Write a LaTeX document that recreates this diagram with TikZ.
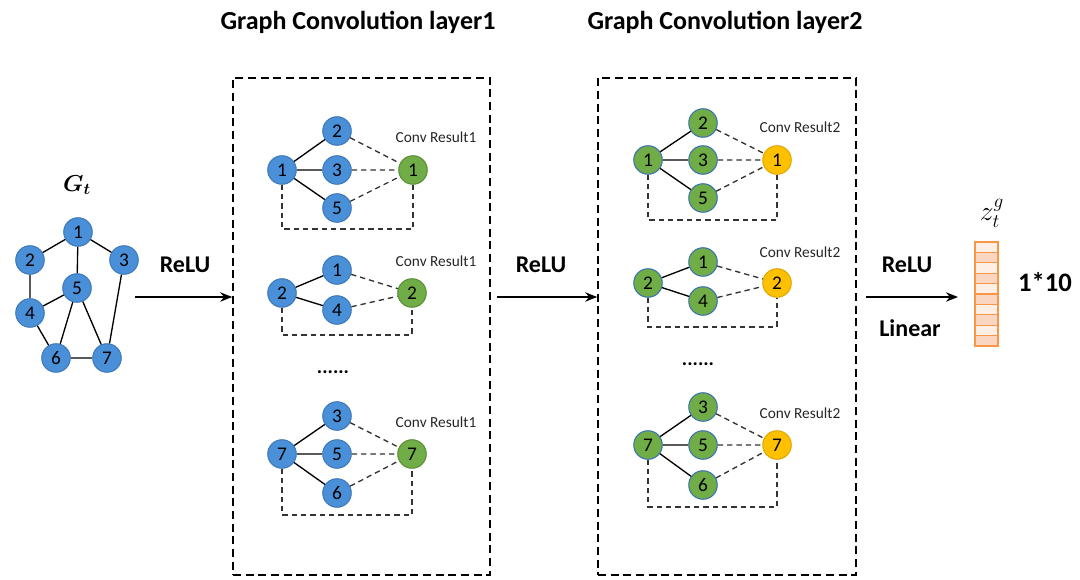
\documentclass[tikz,border=0pt]{standalone}
\usepackage{fontspec}
\setmainfont{Carlito}
\usepackage{amsmath,bm}
\usetikzlibrary{arrows.meta}
\definecolor{nblue}{HTML}{4A90D9}
\definecolor{nblueb}{HTML}{3F7AB8}
\definecolor{ngreen}{HTML}{70AD47}
\definecolor{ngreenb}{HTML}{5A8F38}
\definecolor{nyellow}{HTML}{FFC000}
\definecolor{nyellowb}{HTML}{E0A800}
\definecolor{vborder}{HTML}{F79646}
\definecolor{vfillA}{HTML}{FDEEE6}
\definecolor{vfillB}{HTML}{FAD5C2}
\tikzset{
  gnode/.style={circle,minimum size=28.5pt*0.75,inner sep=0pt,line width=0.8pt,font=\fontsize{14.5}{14.5}\selectfont},
  bnode/.style={gnode,fill=nblue,draw=nblueb},
  cnode/.style={gnode,fill=ngreen,draw=ngreenb},
  c2node/.style={gnode,fill=ngreen,draw=nblue!80!black},
  ynode/.style={gnode,fill=nyellow,draw=nyellowb},
  edge/.style={line width=1pt,black},
  dedge/.style={line width=1pt,black!80,dash pattern=on 4pt off 3pt},
  layerbox/.style={draw,line width=1.2pt,dash pattern=on 6pt off 3.5pt},
  title/.style={font=\fontsize{19.5}{22}\selectfont\bfseries},
  lbl/.style={font=\fontsize{18}{20}\selectfont\bfseries},
  convlbl/.style={font=\fontsize{11.5}{13}\selectfont,text=black!85},
  dots/.style={font=\fontsize{15}{15}\selectfont\bfseries},
  flow/.style={line width=1.4pt,-{Stealth[length=9pt,width=7pt]}},
  vcell/.style={draw=vborder,line width=1pt}
}
\begin{document}
\begin{tikzpicture}[x=0.75pt,y=-0.75pt]
\useasboundingbox (0,0) rectangle (1080,580);
% ---------- input graph G_t ----------
\node (gt) at (77,185) {\fontsize{17}{17}\selectfont$\bm{G_t}$};
\node[bnode] (g1) at (78,232) {1};
\node[bnode] (g2) at (30,260) {2};
\node[bnode] (g3) at (124,260) {3};
\node[bnode] (g5) at (77,288) {5};
\node[bnode] (g4) at (30,313) {4};
\node[bnode] (g6) at (56,358) {6};
\node[bnode] (g7) at (107,358) {7};
\draw[edge] (g1)--(g2) (g1)--(g3) (g1)--(g5) (g2)--(g4) (g4)--(g5) (g4)--(g6)
  (g5)--(g6) (g5)--(g7) (g3)--(g7) (g6)--(g7);
% ---------- titles and boxes ----------
\node[title] (t1) at (358,22) {Graph Convolution layer1};
\node[title] (t2) at (725,22) {Graph Convolution layer2};
\node[layerbox,minimum width=257*0.75pt,minimum height=497*0.75pt,inner sep=0pt] (box1) at (361.5,326.5) {};
\node[layerbox,minimum width=258*0.75pt,minimum height=497*0.75pt,inner sep=0pt] (box2) at (727,326.5) {};
% ---------- arrows ----------
\coordinate (a1s) at (135,297);
\coordinate (a2s) at (497,297);
\coordinate (a3s) at (866,297);
\coordinate (a3e) at (958,297);
\draw[flow] (a1s) -- (a1s -| box1.west);
\draw[flow] (a2s) -- (a2s -| box2.west);
\draw[flow] (a3s) -- (a3e);
\node[lbl] (r1) at (185,265) {ReLU};
\node[lbl] (r2) at (541,265) {ReLU};
\node[lbl] (r3) at (907,265) {ReLU};
\node[lbl] (lin) at (910,328) {Linear};
% ---------- layer 1 ----------
% sub 1
\node[bnode] (a1c) at (282,170) {1};
\node[bnode] (a1n1) at (337,131) {2};
\node[bnode] (a1n2) at (337,170) {3};
\node[bnode] (a1n3) at (337,208) {5};
\node[cnode] (a1r) at (413,170) {1};
\coordinate (a1b) at (0,229);
\draw[edge] (a1c)--(a1n1) (a1c)--(a1n2) (a1c)--(a1n3);
\draw[dedge] (a1n1)--(a1r) (a1n2)--(a1r) (a1n3)--(a1r);
\draw[dedge] (a1c.south) |- (a1b -| a1r) -- (a1r.south);
\node[convlbl] (a1l) at (436,137) {Conv Result1};
% sub 2
\node[bnode] (a2c) at (282,293) {2};
\node[bnode] (a2n1) at (337,270) {1};
\node[bnode] (a2n2) at (337,310) {4};
\node[cnode] (a2r) at (412,293) {2};
\coordinate (a2b) at (0,335);
\draw[edge] (a2c)--(a2n1) (a2c)--(a2n2);
\draw[dedge] (a2n1)--(a2r) (a2n2)--(a2r);
\draw[dedge] (a2c.south) |- (a2b -| a2r) -- (a2r.south);
\node[convlbl] (a2l) at (436,261) {Conv Result1};
\node[dots] (ad) at (333,372) {......};
% sub 3
\node[bnode] (a3c) at (282,454) {7};
\node[bnode] (a3n1) at (337,416) {3};
\node[bnode] (a3n2) at (337,454) {5};
\node[bnode] (a3n3) at (337,493) {6};
\node[cnode] (a3r) at (412,454) {7};
\coordinate (a3b) at (0,515);
\draw[edge] (a3c)--(a3n1) (a3c)--(a3n2) (a3c)--(a3n3);
\draw[dedge] (a3n1)--(a3r) (a3n2)--(a3r) (a3n3)--(a3r);
\draw[dedge] (a3c.south) |- (a3b -| a3r) -- (a3r.south);
\node[convlbl] (a3l) at (436,422) {Conv Result1};
% ---------- layer 2 ----------
% sub 1
\node[c2node] (b1c) at (648,160) {1};
\node[c2node] (b1n1) at (703,123) {2};
\node[c2node] (b1n2) at (703,160) {3};
\node[c2node] (b1n3) at (703,198) {5};
\node[ynode] (b1r) at (777,160) {1};
\coordinate (b1b) at (0,220);
\draw[edge] (b1c)--(b1n1) (b1c)--(b1n2) (b1c)--(b1n3);
\draw[dedge] (b1n1)--(b1r) (b1n2)--(b1r) (b1n3)--(b1r);
\draw[dedge] (b1c.south) |- (b1b -| b1r) -- (b1r.south);
\node[convlbl] (b1l) at (800,127) {Conv Result2};
% sub 2
\node[c2node] (b2c) at (648,283) {2};
\node[c2node] (b2n1) at (703,262) {1};
\node[c2node] (b2n2) at (703,301) {4};
\node[ynode] (b2r) at (777,283) {2};
\coordinate (b2b) at (0,327);
\draw[edge] (b2c)--(b2n1) (b2c)--(b2n2);
\draw[dedge] (b2n1)--(b2r) (b2n2)--(b2r);
\draw[dedge] (b2c.south) |- (b2b -| b2r) -- (b2r.south);
\node[convlbl] (b2l) at (800,252) {Conv Result2};
\node[dots] (bd) at (698,364) {......};
% sub 3
\node[c2node] (b3c) at (648,445) {7};
\node[c2node] (b3n1) at (703,407) {3};
\node[c2node] (b3n2) at (703,445) {5};
\node[c2node] (b3n3) at (703,485) {6};
\node[ynode] (b3r) at (777,445) {7};
\coordinate (b3b) at (0,507);
\draw[edge] (b3c)--(b3n1) (b3c)--(b3n2) (b3c)--(b3n3);
\draw[dedge] (b3n1)--(b3r) (b3n2)--(b3r) (b3n3)--(b3r);
\draw[dedge] (b3c.south) |- (b3b -| b3r) -- (b3r.south);
\node[convlbl] (b3l) at (800,413) {Conv Result2};
% ---------- output vector ----------
\foreach \i in {0,...,9}{
  \pgfmathsetmacro{\yy}{242+\i*10.4}
  \ifodd\i
    \path[vcell,fill=vfillB] (975,\yy) rectangle (998,\yy+10.4);
  \else
    \path[vcell,fill=vfillA] (975,\yy) rectangle (998,\yy+10.4);
  \fi
}
\node[draw=vborder,line width=1.2pt,minimum width=23*0.75pt,minimum height=104*0.75pt,inner sep=0pt] (vec) at (986.5,294) {};
\node (zl) at (992,213) {\fontsize{21}{21}\selectfont$z_t^g$};
\node[lbl,font=\fontsize{20}{22}\selectfont\bfseries] (dim) at (1045,282) {1*10};
\end{tikzpicture}
\end{document}
